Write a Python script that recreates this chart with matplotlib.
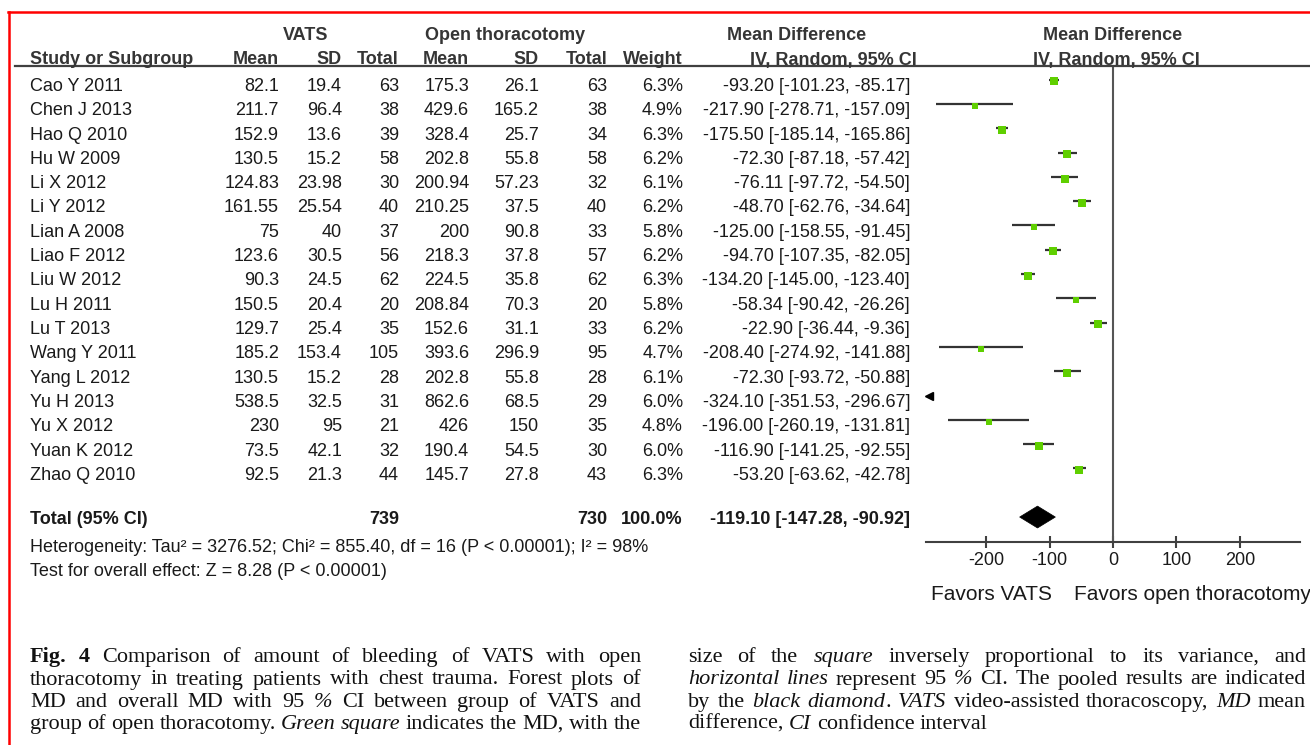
import matplotlib
matplotlib.use("Agg")
import matplotlib.pyplot as plt
import matplotlib.transforms as mtransforms
from matplotlib.patches import Polygon
from matplotlib.lines import Line2D
import math

plt.rcParams['font.family'] = ['Liberation Sans', 'DejaVu Sans']

# ---------------- data ----------------
studies = ["Cao Y 2011", "Chen J 2013", "Hao Q 2010", "Hu W 2009", "Li X 2012", "Li Y 2012",
           "Lian A 2008", "Liao F 2012", "Liu W 2012", "Lu H 2011", "Lu T 2013", "Wang Y 2011",
           "Yang L 2012", "Yu H 2013", "Yu X 2012", "Yuan K 2012", "Zhao Q 2010"]
vats_mean = [82.1, 211.7, 152.9, 130.5, 124.83, 161.55, 75, 123.6, 90.3, 150.5, 129.7, 185.2,
             130.5, 538.5, 230, 73.5, 92.5]
vats_sd = [19.4, 96.4, 13.6, 15.2, 23.98, 25.54, 40, 30.5, 24.5, 20.4, 25.4, 153.4,
           15.2, 32.5, 95, 42.1, 21.3]
vats_n = [63, 38, 39, 58, 30, 40, 37, 56, 62, 20, 35, 105, 28, 31, 21, 32, 44]
open_mean = [175.3, 429.6, 328.4, 202.8, 200.94, 210.25, 200, 218.3, 224.5, 208.84, 152.6, 393.6,
             202.8, 862.6, 426, 190.4, 145.7]
open_sd = [26.1, 165.2, 25.7, 55.8, 57.23, 37.5, 90.8, 37.8, 35.8, 70.3, 31.1, 296.9,
           55.8, 68.5, 150, 54.5, 27.8]
open_n = [63, 38, 34, 58, 32, 40, 33, 57, 62, 20, 33, 95, 28, 29, 35, 30, 43]
weight = [6.3, 4.9, 6.3, 6.2, 6.1, 6.2, 5.8, 6.2, 6.3, 5.8, 6.2, 4.7, 6.1, 6.0, 4.8, 6.0, 6.3]
md = [-93.20, -217.90, -175.50, -72.30, -76.11, -48.70, -125.00, -94.70, -134.20, -58.34,
      -22.90, -208.40, -72.30, -324.10, -196.00, -116.90, -53.20]
ci_lo = [-101.23, -278.71, -185.14, -87.18, -97.72, -62.76, -158.55, -107.35, -145.00, -90.42,
         -36.44, -274.92, -93.72, -351.53, -260.19, -141.25, -63.62]
ci_hi = [-85.17, -157.09, -165.86, -57.42, -54.50, -34.64, -91.45, -82.05, -123.40, -26.26,
         -9.36, -141.88, -50.88, -296.67, -131.81, -92.55, -42.78]
total_vats_n = 739
total_open_n = 730
total_weight = 100.0
total_md = -119.10
total_lo = -147.28
total_hi = -90.92
x_ticks = [-200, -100, 0, 100, 200]
x_limits = (-295, 295)
heterogeneity = "Heterogeneity: Tau\u00b2 = 3276.52; Chi\u00b2 = 855.40, df = 16 (P < 0.00001); I\u00b2 = 98%"
overall = "Test for overall effect: Z = 8.28 (P < 0.00001)"

# ---------------- layout ----------------
W, H = 1310, 745
fig = plt.figure(figsize=(W / 100, H / 100), dpi=100)
fig.patch.set_facecolor('white')


def fx(x):
    return x / W


def fy(y):
    return 1 - y / H


ROW0, ROWH = 84.5, 24.3
AX_L, AX_R, AX_T, AX_B = 926, 1300, 66, 542
ax = fig.add_axes([fx(AX_L), fy(AX_B), (AX_R - AX_L) / W, (AX_B - AX_T) / H])
ax.set_xlim(*x_limits)
ax.set_ylim((AX_B - ROW0) / ROWH, (AX_T - ROW0) / ROWH)
ax.patch.set_alpha(0)
for s in ['top', 'left', 'right']:
    ax.spines[s].set_visible(False)
ax.spines['bottom'].set_color('#404040')
ax.spines['bottom'].set_linewidth(1.5)
ax.set_yticks([])
ax.set_xticks(x_ticks)
ax.set_xticklabels([str(t) for t in x_ticks])
ax.tick_params(axis='x', direction='inout', length=8, width=1.5, color='#404040',
               labelsize=13, labelcolor='#1a1a1a', pad=3.5)
ax.axvline(0, color='#555555', lw=1.5)

LINE_C = '#333333'
GREEN = '#5fcf00'
CI_OFF = -0.2
SQ_OFF = -0.13
for i in range(len(studies)):
    r = i
    if ci_hi[i] < x_limits[0]:
        ax.plot([x_limits[0] + 4], [r + CI_OFF], marker='<', ms=5.5, color='black',
                linestyle='none', clip_on=False)
        continue
    ax.plot([ci_lo[i], ci_hi[i]], [r + CI_OFF, r + CI_OFF], color=LINE_C, lw=1.6,
            solid_capstyle='butt')
    ax.plot([md[i]], [r + SQ_OFF], marker='s', ms=5.2 * math.sqrt(weight[i] / 6.3),
            color=GREEN, mec=GREEN, mew=0, linestyle='none')

total_row = 17.8
dh = 0.45
ax.add_patch(Polygon([(total_lo, total_row), (total_md, total_row - dh),
                      (total_hi, total_row), (total_md, total_row + dh)],
                     closed=True, facecolor='black', edgecolor='black', lw=0.5))

# ---------------- table text ----------------
tr = mtransforms.blended_transform_factory(fig.transFigure, ax.transData)
BASE = 6.5 / ROWH
TXT = '#1a1a1a'
HDR = '#353535'
FS = 13

cols_right = [279, 342, 399, 469, 539, 607, 683, 910]


def fmt_ci(m, lo, hi):
    return f"{m:.2f} [{lo:.2f}, {hi:.2f}]"


for i in range(len(studies)):
    y = i + BASE
    fig.text(fx(30), y, studies[i], transform=tr, ha='left', va='baseline', fontsize=FS, color=TXT)
    vals = [str(vats_mean[i]), str(vats_sd[i]), str(vats_n[i]), str(open_mean[i]),
            str(open_sd[i]), str(open_n[i]), f"{weight[i]:.1f}%", fmt_ci(md[i], ci_lo[i], ci_hi[i])]
    for xr, v in zip(cols_right, vals):
        fig.text(fx(xr), y, v, transform=tr, ha='right', va='baseline', fontsize=FS, color=TXT)

yt = total_row + BASE
fig.text(fx(30), yt, "Total (95% CI)", transform=tr, ha='left', va='baseline', fontsize=FS,
         color=TXT, fontweight='bold')
for xr, v in [(399, str(total_vats_n)), (607, str(total_open_n)), (683, f"{total_weight:.1f}%"),
              (910, fmt_ci(total_md, total_lo, total_hi))]:
    fig.text(fx(xr), yt, v, transform=tr, ha='right', va='baseline', fontsize=FS,
             color=TXT, fontweight='bold')

fig.text(fx(30), fy(552.5), heterogeneity, ha='left', va='baseline', fontsize=FS, color=TXT)
fig.text(fx(30), fy(576.5), overall, ha='left', va='baseline', fontsize=FS, color=TXT)

# headers
hb1, hb2 = fy(39.5), fy(64.5)
hk = dict(fontsize=FS, fontweight='bold', color=HDR, va='baseline')
fig.text(fx(306), hb1, "VATS", ha='center', **hk)
fig.text(fx(505), hb1, "Open thoracotomy", ha='center', **hk)
fig.text(fx(727), hb1, "Mean Difference", ha='left', **hk)
fig.text(fx(1113), hb1, "Mean Difference", ha='center', **hk)
fig.text(fx(30), hb2, "Study or Subgroup", ha='left', **hk)
for xr, lab in zip(cols_right[:7], ["Mean", "SD", "Total", "Mean", "SD", "Total", "Weight"]):
    fig.text(fx(xr), hb2, lab, ha='right', **hk)
fig.text(fx(917), hb2, "IV, Random, 95% CI", ha='right', **hk)
fig.text(fx(1116), hb2, "IV, Random, 95% CI", ha='center', **hk)

fig.add_artist(Line2D([fx(15), 1.0], [fy(66), fy(66)], transform=fig.transFigure,
                      color='#404040', lw=1.6))

# favors labels
fig.text(fx(1052), fy(599.5), "Favors VATS", ha='right', va='baseline', fontsize=15, color=TXT)
fig.text(fx(1074), fy(599.5), "Favors open thoracotomy", ha='left', va='baseline', fontsize=15,
         color=TXT)

# red frame
fig.add_artist(Line2D([fx(9), fx(9)], [fy(12), 0], transform=fig.transFigure, color='#ff0000', lw=1.8))
fig.add_artist(Line2D([fx(8), 1.0], [fy(12), fy(12)], transform=fig.transFigure, color='#ff0000', lw=1.8))

# ---------------- caption ----------------
renderer = fig.canvas.get_renderer()
CAP_FS = 16


def cap_line(tokens, x0, x1, ybase, justify=True):
    objs = []
    for tok in tokens:
        word, style = tok[0], tok[1]
        attach = len(tok) > 2 and tok[2]
        kw = dict(fontsize=CAP_FS, color='#111111', va='baseline', ha='left',
                  family=['Liberation Serif', 'DejaVu Serif'])
        if style == 'b':
            kw['fontweight'] = 'bold'
        elif style == 'i':
            kw['fontstyle'] = 'italic'
        t = fig.text(0, fy(ybase), word, **kw)
        objs.append((t, attach))
    widths = [t.get_window_extent(renderer).width for t, _ in objs]
    ngaps = sum(1 for k, (_, a) in enumerate(objs) if k > 0 and not a)
    space = CAP_FS * 100 / 72 * 0.25
    if justify and ngaps > 0:
        gap = (x1 - x0 - sum(widths)) / ngaps
    else:
        gap = space
    x = x0
    for k, ((t, a), w) in enumerate(zip(objs, widths)):
        if k > 0 and not a:
            x += gap
        t.set_x(fx(x))
        x += w


def toks(s, style='r'):
    return [(w, style) for w in s.split()]


left_lines = [
    [("Fig.", 'b'), ("4", 'b')] + toks("Comparison of amount of bleeding of VATS with open"),
    toks("thoracotomy in treating patients with chest trauma. Forest plots of"),
    toks("MD and overall MD with 95") + [("%", 'i')] + toks("CI between group of VATS and"),
    toks("group of open thoracotomy.") + toks("Green square", 'i') + toks("indicates the MD, with the"),
]
right_lines = [
    toks("size of the") + toks("square", 'i') + toks("inversely proportional to its variance, and"),
    toks("horizontal lines", 'i') + toks("represent 95") + [("%", 'i')] +
    toks("CI. The pooled results are indicated"),
    toks("by the") + toks("black diamond", 'i') + [(".", 'r', True)] + toks("VATS", 'i') +
    toks("video-assisted thoracoscopy,") + toks("MD", 'i') + toks("mean"),
    toks("difference,") + toks("CI", 'i') + toks("confidence interval"),
]
cap_base = [662, 684.5, 707, 729]
for k, ln in enumerate(left_lines):
    cap_line(ln, 30, 641, cap_base[k], justify=True)
for k, ln in enumerate(right_lines):
    cap_line(ln, 688, 1306, cap_base[k], justify=(k < 3))

fig.savefig("out.png", dpi=100)
